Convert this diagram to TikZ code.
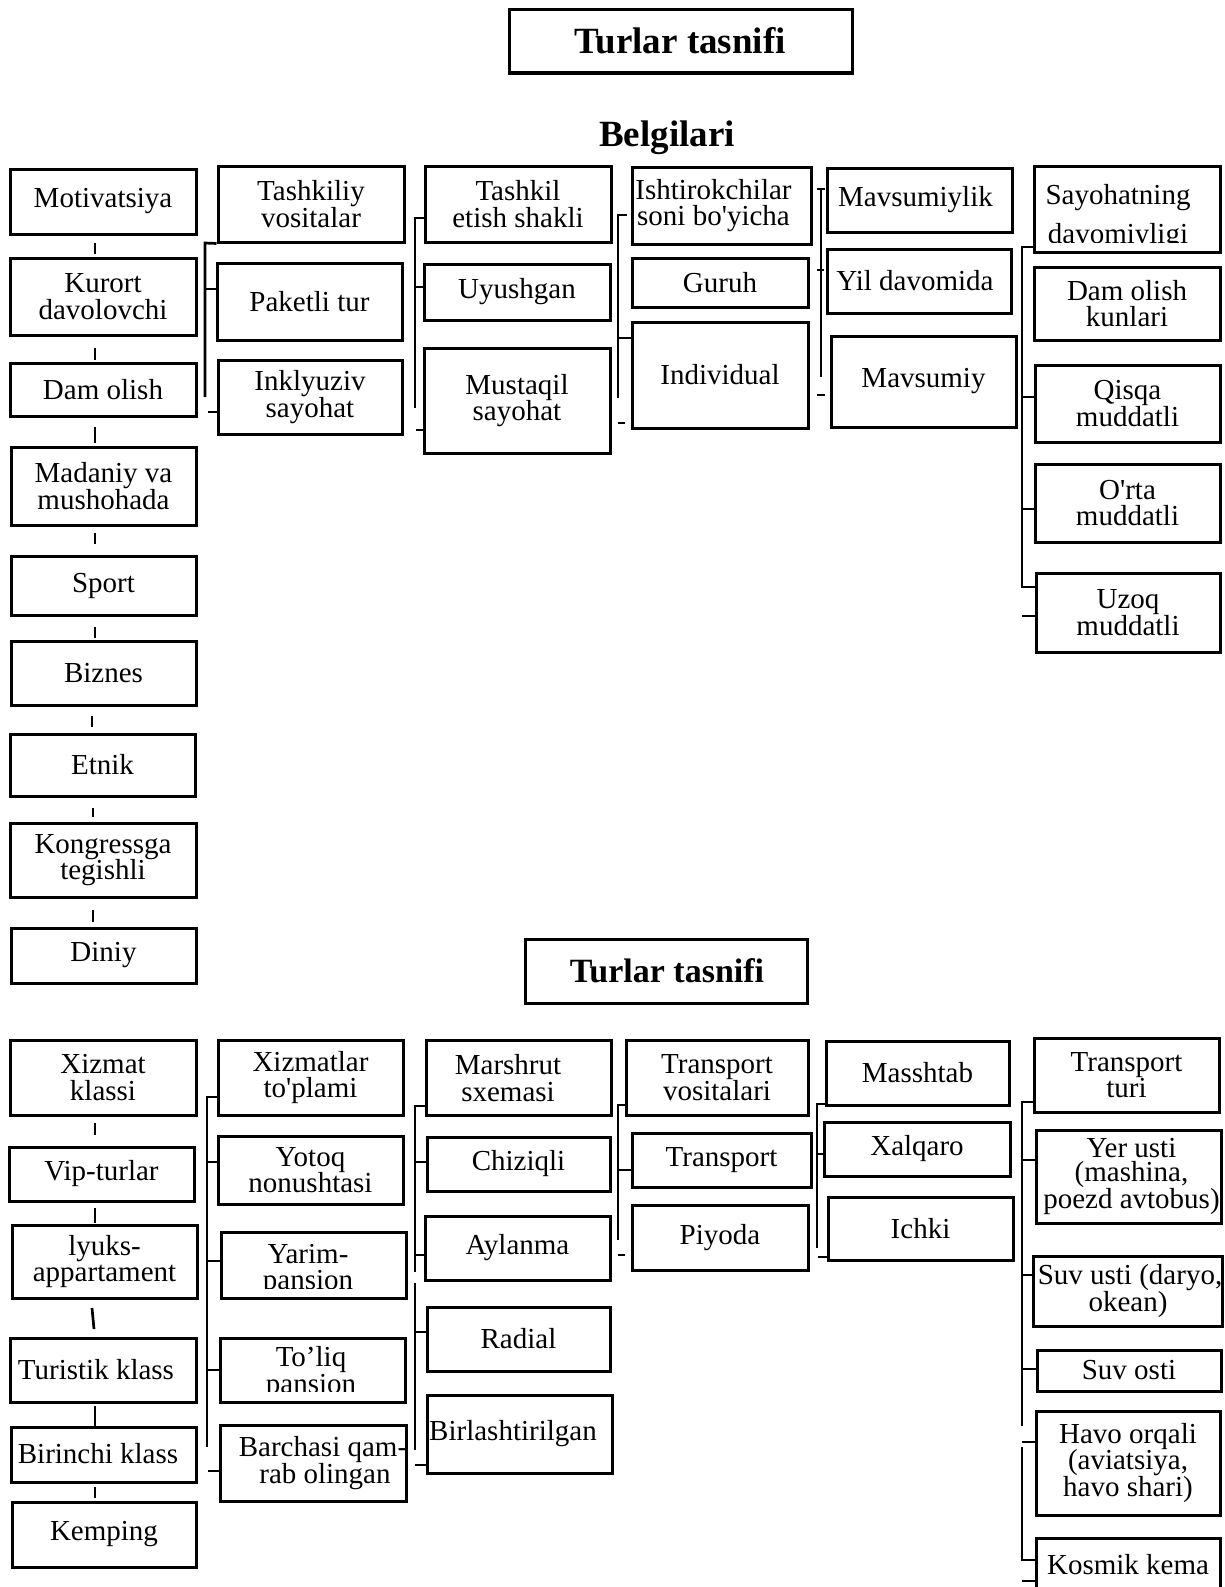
\documentclass[tikz,border=0pt]{standalone}
\usepackage{fontspec}
\setmainfont{Liberation Serif}[Ligatures=TeXOff]
\newcommand\bodyfs{\fontsize{29}{26.5}\selectfont}
% \bx[options]{name}{x1}{y1}{x2}{y2}{text}: a framed box given by its corners
\newcommand\bx[7][]{\node[box,minimum width={(#5)-(#3)-2},minimum height={(#6)-(#4)-2},#1] (#2) at ({((#3)+(#5))/2},{((#4)+(#6))/2}) {#7};}
% \tick{x}{y}{name}: horizontal link from the bus at x to the left side of a box
\newcommand\tick[3]{\draw[link] (#1,#2) -- (#1,#2 -| #3.west);}
\begin{document}
\begin{tikzpicture}[x=1pt,y=-1pt,
  box/.style={draw,line width=3pt,inner sep=0pt,align=center,font=\bodyfs},
  txt/.style={inner sep=0pt,font=\bodyfs},
  link/.style={line width=2.7pt},
  title/.style={inner sep=0pt,font=\bfseries\fontsize{37}{40}\selectfont}]
\useasboundingbox[fill=white] (0,0) rectangle (1224,1587);

% ---------- upper chart ----------
\node[draw,line width=3pt,minimum width=343,minimum height=63] (t1) at (680.5,41.5) {};
\node[title,anchor=base] (t1t) at (680,54) {Turlar tasnifi};
\node[title,anchor=base] (belg) at (667,146) {Belgilari};

% motivation column
\bx{mot}{9}{168}{197}{235}{Motivatsiya}
\bx{kur}{9}{257}{197}{336}{Kurort\\davolovchi}
\bx{dam}{9}{362}{197}{417}{Dam olish}
\bx{mad}{10}{446}{197}{526}{Madaniy va\\mushohada}
\bx{spo}{10}{555}{197}{616}{Sport}
\bx{biz}{10}{640}{197}{706}{Biznes}
\bx{etn}{9}{733}{196}{797}{Etnik}
\bx{kon}{9}{822}{197}{898}{Kongressga\\tegishli}
\bx{din}{10}{927}{197}{984}{Diniy}

% organisational means
\bx{tv}{217}{165}{405}{243}{Tashkiliy\\vositalar}
\bx{pak}{216}{262}{403}{341}{Paketli tur}
\bx{ink}{217}{359}{403}{435}{Inklyuziv\\sayohat}

% form of organisation
\bx{tes}{424}{165}{612}{243}{Tashkil\\etish shakli}
\bx{uyu}{423}{263}{611}{321}{Uyushgan}
\bx{mus}{423}{347}{611}{454}{Mustaqil\\sayohat}

% number of participants
\bx{ish}{631}{166}{812}{245}{\hspace*{-16pt}Ishtirokchilar\\\hspace*{-16pt}soni bo'yicha}
\bx{gur}{631}{257}{809}{308}{Guruh}
\bx{ind}{631}{321}{809}{429}{Individual}

% seasonality
\bx{mvl}{826}{167}{1013}{233}{\hspace*{-8pt}Mavsumiylik}
\bx{yil}{826}{248}{1012}{314}{\hspace*{-8pt}Yil davomida}
\bx{mvs}{830}{335}{1017}{428}{Mavsumiy}

% duration
\bx{say}{1033}{165}{1221}{253}{}
\begin{scope}
  \clip (1033,165) rectangle (1221,242);
  \node[txt,anchor=base] (say1) at (1118,204) {Sayohatning};
  \node[txt,anchor=base] (say2) at (1118,243) {davomiyligi};
\end{scope}
\bx{dok}{1033}{266}{1221}{341}{Dam olish\\kunlari}
\bx{qis}{1034}{364}{1221}{443}{Qisqa\\muddatli}
\bx{ort}{1034}{463}{1221}{543}{O'rta\\muddatli}
\bx{uzo}{1035}{572}{1221}{653}{Uzoq\\muddatli}

% short marks between the motivation boxes
\foreach \x/\a/\b in {95/243/254,95/348/360,95/427/443,95/533/544,95/627/638,
                      92/716/727,93/808/817,93/910/922}
  \draw[link] (\x,\a) -- (\x,\b);

% bus: organisational means
\draw[link] (tv.south west) -- (205,243) -- (205,397);
\tick{205}{289}{pak}
\tick{208}{412}{ink}
% bus: form of organisation
\draw[link] (415,408) -- (415,218) -- (415,218 -| tes.west);
\tick{415}{287}{uyu}
\tick{416}{430}{mus}
% bus: participants
\draw[link] (618,398) -- (618,215) -- (627,215);
\tick{618}{338}{ind}
\draw[link] (618,423) -- (625,423);
% bus: seasonality
\draw[link] (821,377) -- (821,189);
\draw[link] (817,189) -- (825,189);
\draw[link] (817,270) -- (824,270);
\draw[link] (817,395) -- (825,395);
% bus: duration
\draw[link] (1022,247 -| say.west) -- (1022,247) -- (1022,587) -- (1022,587 -| uzo.west);
\tick{1022}{397}{qis}
\tick{1022}{509}{ort}
\tick{1022}{616}{uzo}

% ---------- lower chart ----------
\node[draw,line width=3pt,minimum width=282,minimum height=64] (t2) at (666,971) {};
\node[title,font=\bfseries\fontsize{34}{36}\selectfont,anchor=base] (t2t) at (667,982) {Turlar tasnifi};

% service class
\bx{xk}{9}{1039}{197}{1116}{Xizmat\\klassi}
\bx{vip}{8}{1146}{195}{1202}{Vip-turlar}
\bx{lyu}{11}{1224}{198}{1299}{lyuks-\\appartament}
\bx{tur}{9}{1337}{197}{1403}{}
\node[txt] (turt) at (96,1370) {Turistik klass};
\bx{bir}{10}{1426}{197}{1483}{}
\node[txt] (birt) at (98,1454) {Birinchi klass};
\bx{kem}{11}{1501}{197}{1568}{Kemping}

% service package
\bx{xt}{217}{1039}{404}{1116}{Xizmatlar\\to'plami}
\bx{yot}{217}{1135}{404}{1205}{Yotoq\\nonushtasi}
\bx{yar}{220}{1231}{407}{1299}{}
\begin{scope}
  \clip (220,1231) rectangle (407,1288);
  \node[txt,anchor=base] (yar1) at (308,1263) {Yarim-};
  \node[txt,anchor=base] (yar2) at (308,1289) {pansion};
\end{scope}
\bx{tol}{219}{1337}{406}{1403}{}
\begin{scope}
  \clip (219,1337) rectangle (406,1391);
  \node[txt,align=center,font=\fontsize{29}{21.5}\selectfont,anchor=base] (tolt) at (311,1393) {To’liq\\pansion};
\end{scope}
\bx{bar}{219}{1424}{407}{1502}{}
\node[txt,align=center] (bart) at (323,1463) {Barchasi qam-\\\hspace*{4pt}rab olingan};

% route scheme
\bx{mar}{425}{1039}{612}{1116}{}
\node[txt,align=center] (mart) at (508,1078) {Marshrut\\sxemasi};
\bx{chi}{426}{1136}{611}{1192}{Chiziqli}
\bx{ayl}{424}{1215}{611}{1281}{Aylanma}
\bx{rad}{426}{1306}{611}{1372}{Radial}
\bx{bil}{426}{1394}{613}{1474}{}
\node[txt] (bilt) at (513,1434) {Birlashtirilgan};

% means of transport
\bx{trv}{625}{1039}{809}{1116}{Transport\\vositalari}
\bx{trs}{631}{1132}{812}{1188}{Transport}
\bx{piy}{631}{1204}{809}{1271}{Piyoda}

% scale
\bx{mas}{825}{1040}{1010}{1106}{Masshtab}
\bx{xal}{823}{1121}{1011}{1177}{Xalqaro}
\bx{ich}{827}{1196}{1014}{1261}{Ichki}

% kind of transport
\bx{tt}{1033}{1037}{1220}{1113}{Transport\\turi}
\bx[font=\fontsize{29}{24}\selectfont]{yer}{1035}{1129}{1222}{1224}{\hspace*{6pt}Yer usti\\\hspace*{6pt}(mashina,\\\hspace*{6pt}poezd avtobus)}
\bx{suu}{1034}{1255}{1222}{1327}{\hspace*{4pt}Suv usti (daryo,\\okean)}
\bx{suo}{1036}{1349}{1222}{1392}{Suv osti}
\bx{hav}{1035}{1410}{1221}{1516}{Havo orqali\\(aviatsiya,\\havo shari)}
\bx{kos}{1035}{1537}{1221}{1592}{Kosmik kema}

% short marks between the service-class boxes
\foreach \x/\a/\b in {95/1123/1135,95/1208/1223,95/1406/1426,95/1487/1498}
  \draw[link] (\x,\a) -- (\x,\b);
\draw[link] (92,1308) -- (94,1329);

% bus: service package
\draw[link] (207,1097 -| xt.west) -- (207,1097) -- (207,1447);
\tick{207}{1162}{yot}
\tick{207}{1261}{yar}
\tick{207}{1370}{tol}
\tick{208}{1471}{bar}
% bus: route scheme
\draw[link] (415,1106 -| mar.west) -- (415,1106) -- (415,1272);
\tick{415}{1162}{chi}
\tick{415}{1255}{ayl}
\draw[link] (415,1283) -- (415,1450);
\tick{415}{1332}{rad}
\tick{415}{1465}{bil}
% bus: means of transport
\draw[link] (618,1105 -| trv.west) -- (618,1105) -- (618,1240);
\tick{618}{1170}{trs}
\draw[link] (618,1255) -- (625,1255);
% bus: scale
\draw[link] (817,1104 -| mas.west) -- (817,1104) -- (817,1248);
\tick{817}{1154}{xal}
\tick{818}{1257}{ich}
% bus: kind of transport
\draw[link] (1022,1102 -| tt.west) -- (1022,1102) -- (1022,1426);
\tick{1022}{1160}{yer}
\tick{1022}{1275}{suu}
\tick{1022}{1369}{suo}
\tick{1022}{1442}{hav}
\draw[link] (1022,1447) -- (1022,1560) -- (1022,1560 -| kos.west);
\tick{1022}{1581}{kos}
\end{tikzpicture}
\end{document}
